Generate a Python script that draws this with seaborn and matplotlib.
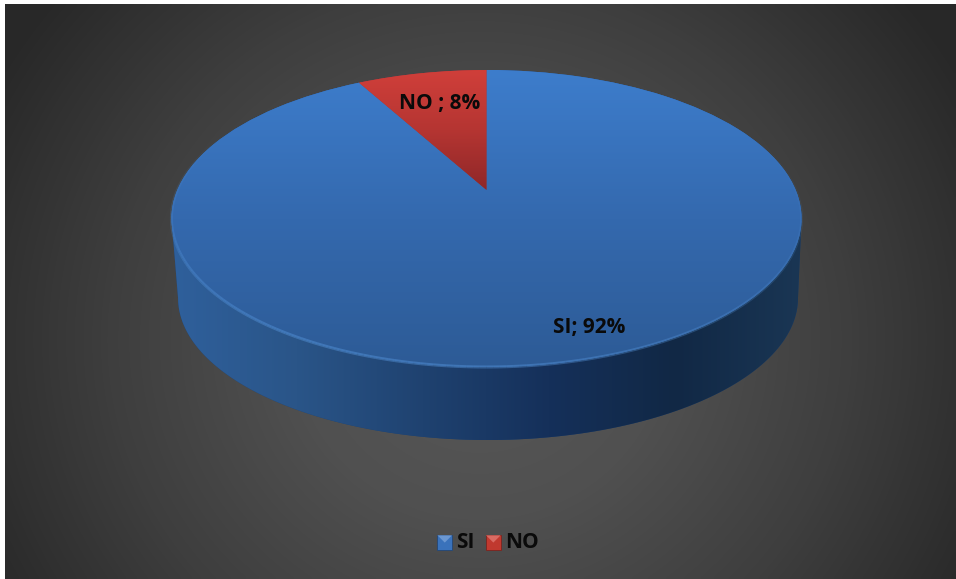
import numpy as np
import seaborn as sns
import matplotlib
matplotlib.use("Agg")
import matplotlib.pyplot as plt
from matplotlib.collections import LineCollection
from matplotlib.legend_handler import HandlerBase
from matplotlib.patches import Polygon, Rectangle, Wedge
from matplotlib.transforms import Transform

categories = ["SI", "NO"]
values = [92, 8]
slice_labels = ["SI; 92%", "NO ; 8%"]

sns.set_theme(style="white")
plt.rcParams["font.family"] = ["Open Sans", "DejaVu Sans"]


# Tilted disc: maps the pie's unit circle onto an ellipse in pixels, and
# pulls the centre of the pie upward as a real perspective view does
class Tilt(Transform):
    input_dims = 2
    output_dims = 2
    is_separable = False
    has_inverse = False

    def __init__(self, cx, cy, a, b, k):
        super().__init__()
        self.cx, self.cy, self.a, self.b, self.k = cx, cy, a, b, k

    def transform_non_affine(self, values):
        x, y = values[:, 0], values[:, 1]
        w = 1 + self.k * y
        return np.column_stack((self.cx + self.a * x / w,
                                self.cy - self.b * (y + self.k) / w))


class BevelHandler(HandlerBase):
    def create_artists(self, legend, orig, xd, yd, width, height, fontsize, trans):
        colour = orig.get_facecolor()
        light = sns.set_hls_values(colour, l=0.62)
        dark = sns.set_hls_values(colour, l=0.3)
        x0, y0 = xd * -1, yd * -1 - 1
        s = 10.5
        base = Rectangle((x0, y0), s, s, facecolor=colour, edgecolor=dark, lw=0.6, transform=trans)
        top = Polygon([(x0, y0 + s), (x0 + s, y0 + s), (x0 + s / 2, y0 + s / 2)],
                      facecolor=light, edgecolor="none", transform=trans)
        return [base, top]


fig = plt.figure(figsize=(9.56, 5.79), dpi=100, facecolor="white")
ax = fig.add_axes([0, 0, 1, 1])

# Background
px, py = np.meshgrid(np.linspace(5, 956, 240), np.linspace(4, 579, 150))
r = np.hypot((px - 480) / 560, (py - 340) / 540)
back_cmap = sns.blend_palette(["#585858", "#505050", "#3e3e3e", "#282828"], as_cmap=True)
ax.imshow(np.clip(r, 0, 1), extent=(5, 956, 579, 4), cmap=back_cmap, vmin=0, vmax=1,
          aspect="auto", interpolation="bilinear", zorder=-10)

top_face = Tilt(486.5, 218.5, 309.2, 148.5, 0.192)
bottom_face = Tilt(488, 298, 304.2, 142, 0.192)

# Top of the pie
wedges, _ = ax.pie(values, startangle=90, counterclock=False,
                   colors=sns.color_palette(["#3a72bb", "#c0392f"]))
for w in wedges:
    w.set_transform(top_face + ax.transData)
    w.set_edgecolor("none")
    w.set_zorder(3)

# Side wall
k_angle = np.arcsin(top_face.k)
low_arc = np.linspace(np.pi + k_angle, 2 * np.pi - k_angle, 120)
up_arc = np.linspace(-k_angle, np.pi + k_angle, 120)
wall_pts = np.vstack((
    bottom_face.transform_non_affine(np.column_stack((np.cos(low_arc), np.sin(low_arc)))),
    top_face.transform_non_affine(np.column_stack((np.cos(up_arc), np.sin(up_arc)))),
))
wall_patch = Polygon(wall_pts, closed=True, facecolor="#1f4270", edgecolor="none", zorder=1)
ax.add_patch(wall_patch)
wall_cmap = sns.blend_palette(["#2f609c", "#2a5588", "#1f4270", "#15305a", "#112845", "#1a3654"], as_cmap=True)
wall_img = ax.imshow(np.linspace(0, 1, 256)[None, :], extent=(170, 802, 445, 200), cmap=wall_cmap,
                     aspect="auto", interpolation="bilinear", zorder=2)
wall_img.set_clip_path(wall_patch)

# Vertical shading of the two slices
si_cmap = sns.blend_palette(["#3d7dcc", "#3469ae", "#2d5b96"], as_cmap=True)
no_cmap = sns.blend_palette(["#d03f3a", "#b53532", "#8f2728"], as_cmap=True)
shade = np.linspace(0, 1, 256)[:, None]
si_img = ax.imshow(shade, extent=(170, 802, 367, 70), cmap=si_cmap, aspect="auto",
                   interpolation="bilinear", zorder=4)
si_img.set_clip_path(wedges[0])
no_img = ax.imshow(shade, extent=(350, 490, 190, 70), cmap=no_cmap, aspect="auto",
                   interpolation="bilinear", zorder=4)
no_img.set_clip_path(wedges[1])

# Light rim along the front of the disc, fading out at both ends
rim = np.radians(np.linspace(150, 390, 241))
rim_pts = top_face.transform_non_affine(np.column_stack((np.cos(rim), np.sin(rim))))
segments = np.stack((rim_pts[:-1], rim_pts[1:]), axis=1)
fade = np.sin(np.linspace(0, np.pi, len(segments))) ** 1.5 * np.linspace(0.6, 0.2, len(segments))
rim_colours = np.tile(matplotlib.colors.to_rgba("#5b9ce4"), (len(segments), 1))
rim_colours[:, 3] = fade
ax.add_collection(LineCollection(segments, colors=rim_colours, linewidths=2.2, zorder=5))

# Data labels
ax.text(589, 327.5, slice_labels[0], ha="center", va="center", fontsize=15, fontweight="bold",
        color="#0a0a0a", zorder=6)
ax.text(440, 103.5, slice_labels[1], ha="center", va="center", fontsize=15, fontweight="bold",
        color="#0a0a0a", zorder=6)

leg = ax.legend(wedges, categories, handler_map={Wedge: BevelHandler()}, ncol=2, frameon=False,
                loc="center", bbox_to_anchor=(488, 543), bbox_transform=ax.transData,
                handlelength=0.7, handletextpad=0.2, columnspacing=0.55,
                prop={"size": 15, "weight": "bold"})
for t in leg.get_texts():
    t.set_color("#0a0a0a")

ax.set_aspect("auto")
ax.set_xlim(0, 956)
ax.set_ylim(579, 0)
ax.axis("off")

fig.savefig("out.png", dpi=100, facecolor="white")
